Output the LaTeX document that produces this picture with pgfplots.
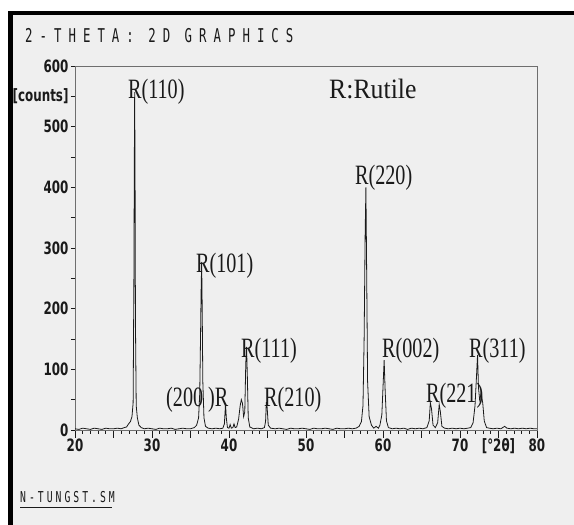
\documentclass[border=0pt]{standalone}
\usepackage{fontspec}
\usepackage{pgfplots}
\pgfplotsset{compat=1.18}
\newfontfamily\tickf{DejaVu Sans}[FakeStretch=0.7]
\newfontfamily\pix{DejaVu Sans Mono}[FakeStretch=0.65,LetterSpace=20]
\newfontfamily\pixt{DejaVu Sans Mono}[FakeStretch=0.65,LetterSpace=37]
\newfontfamily\lab{Liberation Serif}[FakeStretch=0.72]
\newfontfamily\labw{Liberation Serif}[FakeStretch=0.92]
\definecolor{bg}{HTML}{EFEFEF}
\definecolor{frame}{HTML}{6E6E6E}
\definecolor{ink}{HTML}{1A1A1A}

\begin{document}
\begin{tikzpicture}
\path[use as bounding box] (0,0) rectangle (574bp,525bp);
\fill[white] (0,0) rectangle (574bp,525bp);
\fill[bg] (8bp,0) rectangle (574bp,514bp);
\fill[black] (8bp,510bp) rectangle (574bp,514bp);
\fill[black] (8bp,0) rectangle (13bp,514bp);

\node[anchor=base west, inner sep=0, text=ink, font=\pixt\fontsize{19bp}{20bp}\selectfont] at (25bp,482bp) {2-THETA: 2D GRAPHICS};
\node[anchor=base west, inner sep=0, text=ink, font=\pix\fontsize{15bp}{16bp}\selectfont] at (20bp,23bp) {N-TUNGST.SM};
\draw[ink, line width=0.8bp] (20bp,18bp) -- (112bp,18bp);

\begin{axis}[
  at={(75bp,95bp)}, anchor=south west,
  scale only axis, width=462bp, height=364bp,
  xmin=20, xmax=80, ymin=0, ymax=600,
  axis line style={frame, line width=0.8bp},
  tick align=outside,
  xtick={20,25,...,80},
  xticklabels={20,,30,,40,,50,,60,,70,{[°2θ]},80},
  minor x tick num=4,
  ytick={0,100,200,300,400,500,550,600},
  yticklabels={0,100,200,300,400,500,{[counts]},600},
  minor ytick={50,150,250,350,450},
  major tick length=4bp, minor tick length=4bp,
  xtick style={/pgfplots/major tick length=8bp,/pgfplots/minor tick length=4bp},
  every tick/.style={ink, line width=0.7bp},
  xtick pos=bottom, ytick pos=left,
  ticklabel style={font=\tickf\bfseries\fontsize{17bp}{18bp}\selectfont, text=ink},
  xticklabel style={yshift=-1bp},
  yticklabel style={xshift=1bp},
  clip=false,
]
\addplot[ink, line width=0.8bp] coordinates {
(20,2)(20.5,1)(21,3)(21.5,2)(22,1)(22.5,3)(23,2)(23.5,1)(24,3)(24.5,2)(25,2)(25.5,3)(26,2)(26.4,4)(26.7,5)(26.9,9)(27.2,14)(27.4,22)(27.55,45)(27.65,250)(27.7,430)(27.75,557)(27.8,420)(27.85,180)(27.95,40)(28.1,20)(28.3,8)(28.6,4)(29,2)(29.5,3)(30,2)(30.5,1)(31,3)(31.5,2)(32,2)(32.5,3)(33,1)(33.5,2)(34,3)(34.5,2)(35,2)(35.5,4)(35.8,8)(36.05,20)(36.2,60)(36.3,150)(36.38,230)(36.45,277)(36.52,200)(36.6,80)(36.75,20)(36.95,6)(37.3,3)(37.8,2)(38.3,3)(38.8,2)(39.2,3)(39.4,10)(39.55,43)(39.65,20)(39.8,4)(40.0,3)(40.15,9)(40.3,3)(40.5,4)(40.65,10)(40.8,4)(41.0,5)(41.25,18)(41.45,40)(41.6,50)(41.75,44)(41.9,22)(42.05,30)(42.18,110)(42.28,137)(42.38,90)(42.5,20)(42.7,5)(43.2,2)(43.7,3)(44.2,2)(44.6,4)(44.75,14)(44.85,46)(44.95,38)(45.1,8)(45.4,3)(46,2)(46.5,3)(47,2)(47.5,1)(48,3)(48.5,2)(49,2)(49.5,3)(50,2)(50.5,1)(51,3)(51.5,2)(52,2)(52.5,3)(53,2)(53.5,1)(54,3)(54.5,2)(55,2)(55.5,3)(56,2)(56.5,3)(56.9,6)(57.2,14)(57.4,40)(57.55,150)(57.68,320)(57.78,400)(57.88,260)(58.0,80)(58.2,22)(58.5,8)(58.8,3)(59.1,6)(59.4,3)(59.6,8)(59.85,25)(60.0,70)(60.15,115)(60.28,65)(60.45,15)(60.7,4)(61.2,2)(61.7,3)(62.2,2)(62.7,3)(63.2,1)(63.7,3)(64.2,2)(64.7,3)(65.2,2)(65.7,4)(66.0,15)(66.15,45)(66.3,35)(66.5,8)(66.8,4)(67.1,12)(67.3,42)(67.45,30)(67.65,6)(68,3)(68.5,2)(69,3)(69.5,2)(70,3)(70.5,2)(71,3)(71.4,4)(71.7,12)(71.95,40)(72.15,90)(72.28,124)(72.4,70)(72.55,50)(72.75,60)(72.95,45)(73.15,15)(73.45,4)(73.8,3)(74.3,2)(74.8,3)(75.3,2)(75.8,6)(76.1,3)(76.6,2)(77.1,3)(77.6,2)(78.1,3)(78.6,2)(79.1,3)(79.6,2)(80,2)
};
\begin{scope}[every node/.style={anchor=base west, inner sep=0, text=ink, font=\lab\fontsize{28bp}{30bp}\selectfont}]
\node at (axis cs:26.88,547) {R(110)};
\node[font=\labw\fontsize{28bp}{30bp}\selectfont] at (axis cs:52.99,547) {R:Rutile};
\node at (axis cs:56.36,404) {R(220)};
\node at (axis cs:35.71,260) {R(101)};
\node at (axis cs:41.56,119) {R(111)};
\node at (axis cs:31.82,38) {(200\hspace{5bp})R};
\node at (axis cs:44.55,38) {R(210)};
\node at (axis cs:59.87,119) {R(002)};
\node at (axis cs:65.58,46) {R(221)};
\node at (axis cs:71.17,119) {R(311)};
\end{scope}
\end{axis}
\end{tikzpicture}
\end{document}
